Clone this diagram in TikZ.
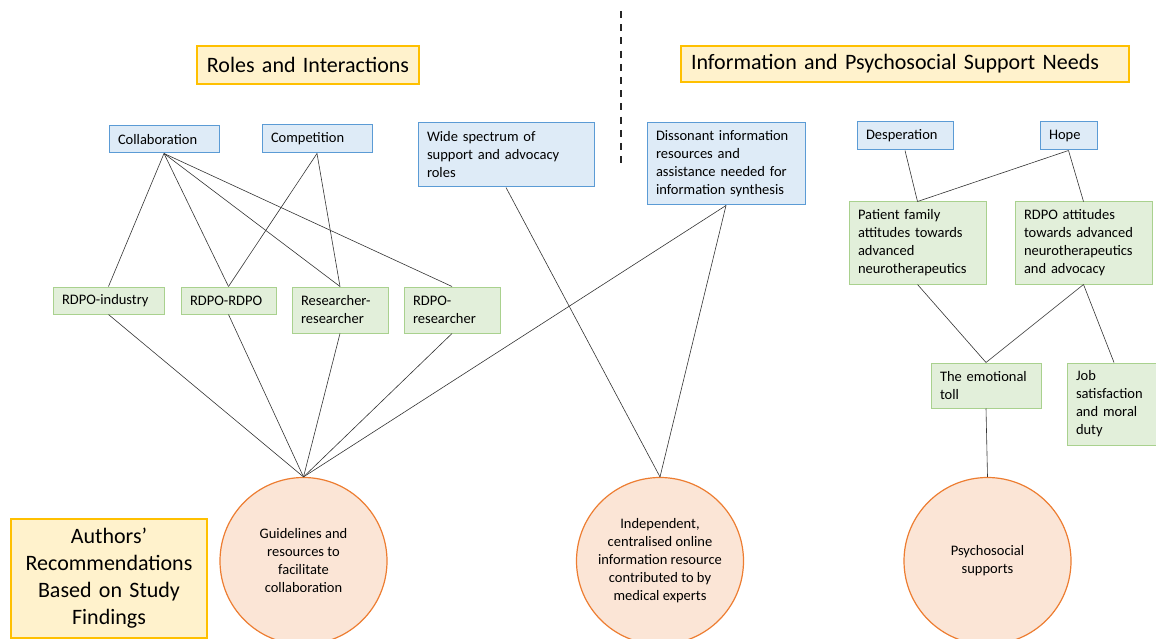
\documentclass[tikz,border=0pt]{standalone}
\usepackage{fontspec}
\setmainfont{Carlito}
\definecolor{bluefill}{HTML}{DEEBF7}
\definecolor{blueline}{HTML}{5B9BD5}
\definecolor{greenfill}{HTML}{E2EFDA}
\definecolor{greenline}{HTML}{A9D18E}
\definecolor{yelfill}{HTML}{FFF2CC}
\definecolor{yelline}{HTML}{FFC000}
\definecolor{orfill}{HTML}{FBE5D6}
\definecolor{orline}{HTML}{ED7D31}
\tikzset{
  basebox/.style={rectangle, inner xsep=9pt, inner ysep=0pt, align=left,
    font=\fontsize{14.5}{18}\selectfont, line width=1pt},
  bluebox/.style={basebox, draw=blueline, fill=bluefill},
  greenbox/.style={basebox, draw=greenline, fill=greenfill},
  titlebox/.style={rectangle, draw=yelline, fill=yelfill, line width=1.2pt,
    inner xsep=10pt, inner ysep=0pt, font=\fontsize{22}{27}\selectfont},
  recnode/.style={circle, draw=orline, fill=orfill, line width=1.2pt,
    minimum size=167pt, inner sep=0pt, align=center,
    font=\fontsize{14.5}{18}\selectfont},
  conn/.style={draw=black!80, line width=0.6pt},
  divider/.style={draw=black!85, line width=2pt, dash pattern=on 7pt off 6.2pt},
}
\begin{document}
\begin{tikzpicture}[x=1pt, y=-1pt]
\useasboundingbox (0,0) rectangle (1156,639);

% titles
\node[titlebox, inner xsep=2pt, minimum width=222pt, minimum height=38pt, text width=218pt, align=center] (roles) at (308,65) {Roles and Interactions};
\node[titlebox, minimum width=448pt, minimum height=36pt, text width=428pt, align=left] (info) at (905,64) {Information and Psychosocial Support Needs};
\node[titlebox, inner xsep=2pt, minimum width=196pt, minimum height=119pt, text width=192pt, align=center] (authors) at (109,578.5) {Authors’\\Recommendations\\Based on Study\\Findings};

% divider
\coordinate (dtop) at (621,11);
\coordinate (dbot) at (621,163);
\draw[divider] (dtop) -- (dbot);

% blue boxes
\node[bluebox, minimum width=110pt, minimum height=27pt, text width=92pt] (collab) at (164,139.5) {Collaboration};
\node[bluebox, minimum width=110pt, minimum height=28pt, text width=92pt] (compet) at (317,139) {Competition};
\node[bluebox, minimum width=176pt, minimum height=64pt, text width=158pt] (wide) at (506,155) {Wide spectrum of\\support and advocacy\\roles};
\node[bluebox, minimum width=158pt, minimum height=82pt, text width=140pt] (disson) at (726,164) {Dissonant information\\resources and\\assistance needed for\\information synthesis};
\node[bluebox, minimum width=96pt, minimum height=28pt, text width=78pt] (desp) at (905,136) {Desperation};
\node[bluebox, minimum width=57pt, minimum height=28pt, text width=39pt] (hope) at (1068.5,136) {Hope};

% green boxes
\node[greenbox, minimum width=111pt, minimum height=27pt, text width=93pt] (ind) at (108.5,300.5) {RDPO-industry};
\node[greenbox, minimum width=95pt, minimum height=27pt, text width=77pt] (rr) at (228.5,300.5) {RDPO-RDPO};
\node[greenbox, minimum width=96pt, minimum height=46pt, text width=78pt] (resres) at (340,310) {Researcher-\\researcher};
\node[greenbox, minimum width=96pt, minimum height=46pt, text width=78pt] (rres) at (452,310) {RDPO-\\researcher};
\node[greenbox, minimum width=137pt, minimum height=82pt, text width=119pt] (patient) at (917.5,243) {Patient family\\attitudes towards\\advanced\\neurotherapeutics};
\node[greenbox, minimum width=137pt, minimum height=82pt, text width=119pt] (rdpoatt) at (1083.5,243) {RDPO attitudes\\towards advanced\\neurotherapeutics\\and advocacy};
\node[greenbox, minimum width=110pt, minimum height=45pt, text width=92pt] (toll) at (986,385.5) {The emotional\\toll};
\node[greenbox, minimum width=94pt, minimum height=82pt, text width=76pt] (job) at (1114,404) {Job\\satisfaction\\and moral\\duty};

% recommendation circles
\node[recnode] (guide) at (303.5,561) {Guidelines and\\resources to\\facilitate\\collaboration};
\node[recnode] (indep) at (660,561) {Independent,\\centralised online\\information resource\\contributed to by\\medical experts};
\node[recnode] (psych) at (987.5,561) {Psychosocial\\supports};

% connectors
\draw[conn] (collab.south) -- (ind.north);
\draw[conn] (collab.south) -- (rr.north);
\draw[conn] (collab.south) -- (resres.north);
\draw[conn] (collab.south) -- (rres.north);
\draw[conn] (compet.south) -- (rr.north);
\draw[conn] (compet.south) -- (resres.north);
\draw[conn] (ind.south) -- (guide.north);
\draw[conn] (rr.south) -- (guide.north);
\draw[conn] (resres.south) -- (guide.north);
\draw[conn] (rres.south) -- (guide.north);
\draw[conn] (disson.south) -- (guide.north);
\draw[conn] (disson.south) -- (indep.north);
\draw[conn] (wide.south) -- (indep.north);
\draw[conn] (desp.south) -- (patient.north);
\draw[conn] (hope.south) -- (patient.north);
\draw[conn] (hope.south) -- (rdpoatt.north);
\draw[conn] (patient.south) -- (toll.north);
\draw[conn] (rdpoatt.south) -- (toll.north);
\draw[conn] (rdpoatt.south) -- (job.north);
\draw[conn] (toll.south) -- (psych.north);
\end{tikzpicture}
\end{document}
